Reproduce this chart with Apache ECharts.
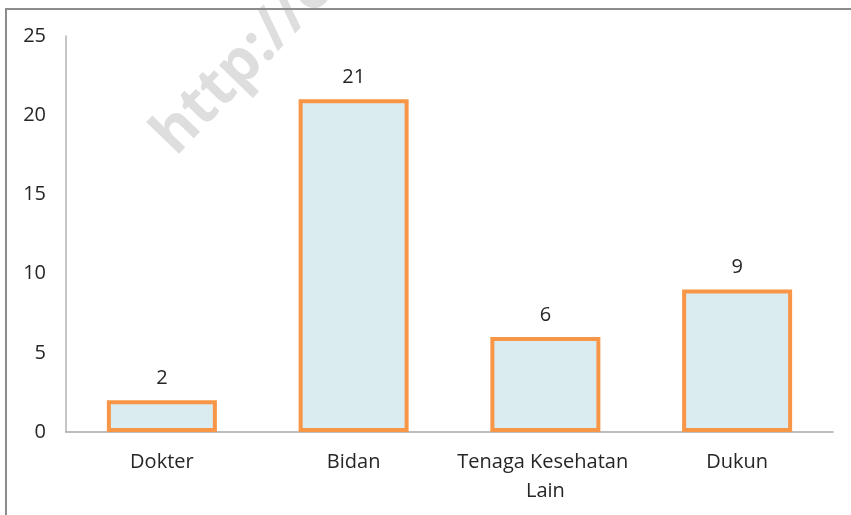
<!DOCTYPE html>
<html>
<head>
<meta charset="utf-8">
<script src="https://cdn.jsdelivr.net/npm/echarts@6/dist/echarts.min.js"></script>
<style>
    html, body { margin: 0; padding: 0; background: #fff; }
    #main { width: 851px; height: 515px; }
</style>
</head>
<body>
<div id="main"></div>
<script>
// data
var categories = ['Dokter', 'Bidan', 'Tenaga Kesehatan Lain', 'Dukun'];
var values = [2, 21, 6, 9];

var chart = echarts.init(document.getElementById('main'));
var fontFamily = '"Open Sans", sans-serif';

var option = {
    animation: false,
    backgroundColor: '#fff',
    grid: {
        left: 66,
        right: 18,
        top: 36,
        bottom: 83
    },
    xAxis: {
        type: 'category',
        data: categories,
        axisLine: { lineStyle: { color: '#a6a6a6', width: 1.5 } },
        axisTick: { show: false },
        axisLabel: {
            interval: 0,
            color: '#262626',
            fontFamily: fontFamily,
            fontSize: 20,
            lineHeight: 29,
            margin: 16,
            width: 190,
            overflow: 'break'
        }
    },
    yAxis: {
        type: 'value',
        min: 0,
        max: 25,
        interval: 5,
        axisLine: { show: true, lineStyle: { color: '#b3b3b3', width: 1.5 } },
        axisTick: { show: false },
        splitLine: { show: false },
        axisLabel: {
            color: '#262626',
            fontFamily: fontFamily,
            fontSize: 20,
            margin: 20
        }
    },
    graphic: [
        {
            // watermark
            type: 'text',
            x: 185,
            y: 166,
            rotation: 46 * Math.PI / 180,
            z: 0,
            style: {
                text: 'http://o',
                fill: '#dedede',
                font: 'bold 60px "Open Sans", sans-serif',
                textAlign: 'left',
                textVerticalAlign: 'bottom'
            }
        },
        {
            // frame
            type: 'rect',
            z: 100,
            shape: { x: 6, y: 9, width: 900, height: 600 },
            style: { fill: 'none', stroke: '#8c8c8c', lineWidth: 2 }
        }
    ],
    series: [{
        type: 'bar',
        data: values,
        barWidth: 110,
        itemStyle: {
            color: '#dbecf1',
            borderColor: '#f79646',
            borderWidth: 4
        },
        label: {
            show: true,
            position: 'top',
            distance: 12,
            color: '#262626',
            fontFamily: fontFamily,
            fontSize: 20
        }
    }]
};
chart.setOption(option);
</script>
</body>
</html>
